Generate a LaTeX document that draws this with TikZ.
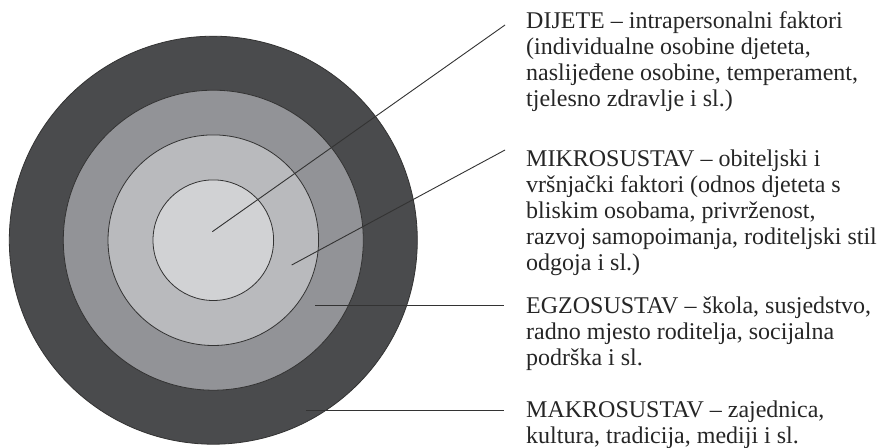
\documentclass[tikz,border=0pt]{standalone}
\usepackage{fontspec}
\setmainfont{Liberation Serif}
\usetikzlibrary{positioning}

\definecolor{makrogray}{HTML}{4A4B4D}
\definecolor{egzogray}{HTML}{929397}
\definecolor{mikrogray}{HTML}{B9BABD}
\definecolor{dijetegray}{HTML}{D1D2D4}
\definecolor{edgegray}{HTML}{333333}

\newcommand{\DrawRing}[2]{
    \filldraw[ring, fill=#2] (ctr) circle (#1);
}

\begin{document}
\begin{tikzpicture}[
        x=1pt, y=-1pt,
        ring/.style={draw=edgegray, line width=0.8pt},
        leader/.style={edgegray, line width=0.9pt},
        lbl/.style={anchor=base west, align=left, inner sep=0pt,
            font=\fontsize{24}{26}\selectfont, text=black!85}
    ]
  \fill[white] (0,0) rectangle (880,447);
  \useasboundingbox (0,0) rectangle (880,447);

  %%% Rings, outside in
  \coordinate (ctr) at (213.3,240.2);
  \foreach \r / \c in {204/makrogray, 150/egzogray, 105.3/mikrogray, 60.3/dijetegray}
    \DrawRing{\r}{\c};

  %%% Labels (placed at the baseline of their last line)
  \node[lbl] (dijete) at (526,106.3) {DIJETE -- intrapersonalni faktori\\
    (individualne osobine djeteta,\\
    naslijeđene osobine, temperament,\\
    tjelesno zdravlje i sl.)};
  \node[lbl] (mikro) at (526,270.7) {MIKROSUSTAV -- obiteljski i\\
    vršnjački faktori (odnos djeteta s\\
    bliskim osobama, privrženost,\\
    razvoj samopoimanja, roditeljski stil\\
    odgoja i sl.)};
  \node[lbl] (egzo) at (526,365) {EGZOSUSTAV -- škola, susjedstvo,\\
    radno mjesto roditelja, socijalna\\
    podrška i sl.};
  \node[lbl] (makro) at (526,443) {MAKROSUSTAV -- zajednica,\\
    kultura, tradicija, mediji i sl.};

  %%% Leader lines
  % free ends inside the rings
  \coordinate (dijete-in) at (212.3,231.7);
  \coordinate (mikro-in) at (291.7,265);
  \coordinate (egzo-in) at (315.3,305);
  \coordinate (makro-in) at (306,410);
  \draw[leader] (dijete-in) -- ([shift={(-21,-81.3)}]dijete.base west);
  \draw[leader] (mikro-in) -- ([shift={(-21,-120.7)}]mikro.base west);
  \draw[leader] (egzo-in) -- ([shift={(-22,-60)}]egzo.base west);
  \draw[leader] (makro-in) -- ([shift={(-22,-33)}]makro.base west);
\end{tikzpicture}
\end{document}
